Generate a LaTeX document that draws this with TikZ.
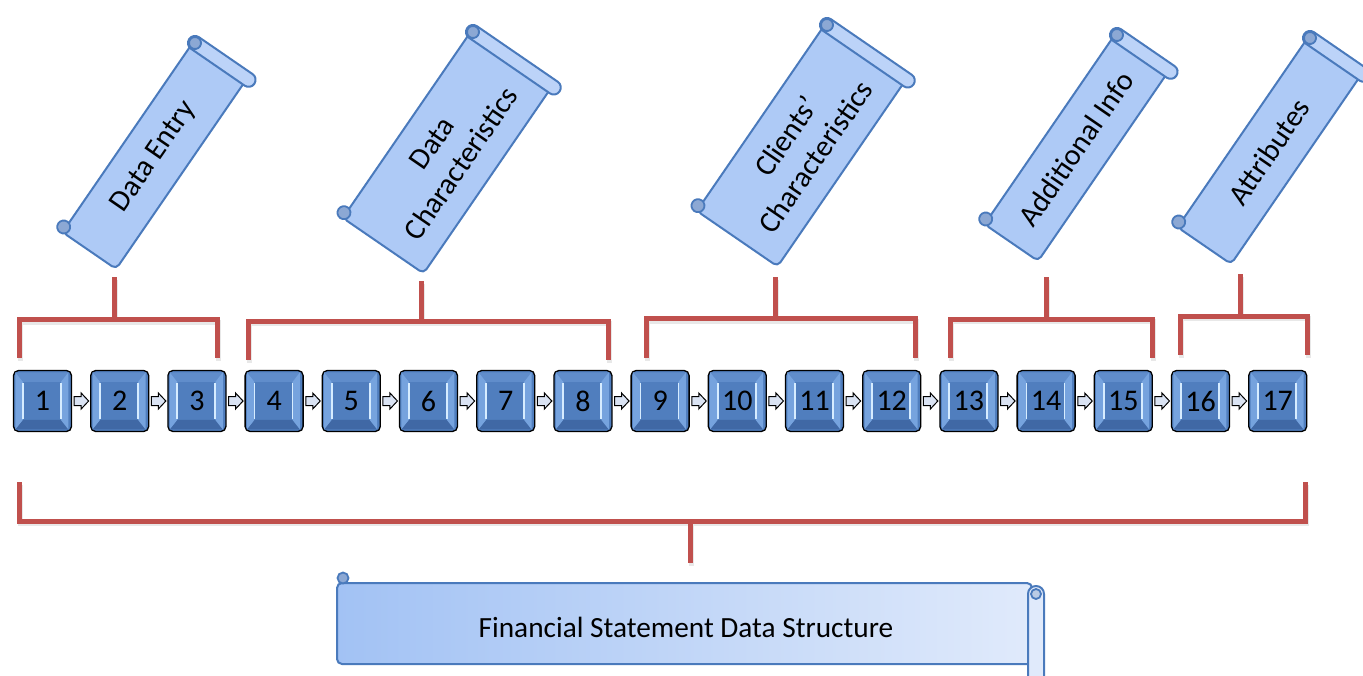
\documentclass[tikz,border=0pt]{standalone}
\usepackage{fontspec}
\setmainfont{Carlito}
\usetikzlibrary{calc}
\definecolor{boxface}{RGB}{80,126,190}
\definecolor{bevL}{RGB}{118,163,222}
\definecolor{bevT}{RGB}{96,141,203}
\definecolor{bevB}{RGB}{64,104,165}
\definecolor{hilite}{RGB}{214,236,255}
\definecolor{arrfill}{RGB}{218,227,243}
\definecolor{brk}{RGB}{192,80,77}
\definecolor{scrline}{RGB}{74,122,188}
\definecolor{scrfill}{RGB}{174,202,246}
\definecolor{scrroll}{RGB}{188,211,248}
\definecolor{scrcurl}{RGB}{140,168,212}
\definecolor{fsleft}{RGB}{162,194,244}
\definecolor{fsright}{RGB}{224,234,251}
% #1,#2 top-left curl centre, #3 body width, #4 body length, #5 name, #6 text
\newcommand\drawscroll[6]{%
  \begin{scope}[shift={(#1,#2)}, rotate=-34.5]
    \path[scrollbody] (-2,0) -- (-2,#4+5) -- (#3,#4+5) -- (#3,0) -- cycle;
    \path[scrollroll] (-7,-7) rectangle (#3+9,7);
    \path[scrollcurl] (0,0) circle (6);
    \path[scrollcurl] (-4,#4) circle (6.5);
    \node[scrolltext] (#5) at (#3/2-1,#4/2+4) {#6};
  \end{scope}}
\tikzset{
  numbox/.style={draw=black, line width=1.3pt, rounded corners=5pt, fill=boxface,
    minimum width=58pt, minimum height=61pt, inner sep=0pt,
    font=\fontsize{30}{30}\selectfont},
  blockarrow/.style={draw=black, fill=arrfill, line width=1pt, line join=miter},
  bracket/.style={draw=brk, line width=5pt},
  brshadow/.style={draw=black!45, line width=5pt, opacity=0.2},
  scrollbody/.style={draw=scrline, fill=scrfill, line width=2pt, rounded corners=5pt, line join=round},
  scrollroll/.style={draw=scrline, fill=scrroll, line width=2pt, rounded corners=6.9pt},
  scrollcurl/.style={draw=scrline, fill=scrcurl, line width=1.8pt},
  scrolltext/.style={rotate=55.5, align=center, font=\fontsize{30}{36}\selectfont, inner sep=0pt},
}
\begin{document}
\begin{tikzpicture}[x=1pt, y=-1pt]
\clip (0,0) rectangle (1363,675);
\fill[white] (0,0) rectangle (1363,675);

% ---- brackets (shadows first) ----
\begin{scope}[shift={(1,2.5)}]
  \draw[brshadow] (19,358) -- (19,319.5) -- (217,319.5) -- (217,358) (114,319.5) -- (114,277);
  \draw[brshadow] (248,360) -- (248,321) -- (608,321) -- (608,360) (421,321) -- (421,281);
  \draw[brshadow] (646,358) -- (646,318.5) -- (915,318.5) -- (915,358) (775,318.5) -- (775,277);
  \draw[brshadow] (950,358) -- (950,319) -- (1152,319) -- (1152,358) (1046,319) -- (1046,277);
  \draw[brshadow] (1180,355) -- (1180,316) -- (1307,316) -- (1307,355) (1240,316) -- (1240,274);
  \draw[brshadow] (19,482) -- (19,521) -- (1305,521) -- (1305,482) (690,521) -- (690,563);
\end{scope}
\draw[bracket] (19,358) -- (19,319.5) -- (217,319.5) -- (217,358) (114,319.5) -- (114,277);
\draw[bracket] (248,360) -- (248,321) -- (608,321) -- (608,360) (421,321) -- (421,281);
\draw[bracket] (646,358) -- (646,318.5) -- (915,318.5) -- (915,358) (775,318.5) -- (775,277);
\draw[bracket] (950,358) -- (950,319) -- (1152,319) -- (1152,358) (1046,319) -- (1046,277);
\draw[bracket] (1180,355) -- (1180,316) -- (1307,316) -- (1307,355) (1240,316) -- (1240,274);
\draw[bracket] (19,482) -- (19,521) -- (1305,521) -- (1305,482) (690,521) -- (690,563);

% ---- numbered boxes ----
\foreach \i in {1,...,17} {
  \pgfmathsetmacro\bx{42.5+77.2*(\i-1)}
  \node[numbox] (b\i) at (\bx,401) {\i};
  \begin{scope}[shift={(b\i.north west)}]
    \fill[bevT] (2.5,2.5) -- (55.5,2.5) -- (48,12) -- (10,12) -- cycle;
    \fill[bevB] (2.5,59.5) -- (55.5,59.5) -- (48,50) -- (10,50) -- cycle;
    \fill[bevL] (2.5,2.5) -- (10,12) -- (10,50) -- (2.5,59.5) -- cycle;
    \fill[bevL] (55.5,2.5) -- (48,12) -- (48,50) -- (55.5,59.5) -- cycle;
    \draw[hilite, line width=1.8pt] (10,13) -- (10,49);
    \draw[hilite, line width=1.8pt] (48,13) -- (48,49);
  \end{scope}
}
\foreach \i in {1,...,16} {
  \draw[blockarrow] ($(b\i.east)+(2,-4.5)$) -- ++(7,0) -- ++(0,-3.5) -- ++(7.5,8)
     -- ++(-7.5,8) -- ++(0,-3.5) -- ++(-7,0) -- cycle;
}

% ---- scrolls ----
\drawscroll{195}{43}{63}{226}{s1}{Data Entry}
\drawscroll{473}{32}{96}{222}{s2}{Data\\Characteristics}
\drawscroll{827}{25}{96}{222}{s3}{Clients’\\Characteristics}
\drawscroll{1117}{35}{63}{226}{s4}{Additional Info}
\drawscroll{1310}{38}{63}{226}{s5}{Attributes}

% ---- bottom scroll ----
\path[draw=scrline, line width=2pt, left color=fsleft, right color=fsright, rounded corners=5pt]
  (337,583) rectangle (1032,664);
\path[scrollroll, fill=fsright, rounded corners=7.9pt] (1028,586) rectangle (1044,720);
\path[scrollcurl, fill=scrcurl!60] (1036,594) circle (5);
\path[scrollcurl] (343,578) circle (5.5);
\node[font=\fontsize{29.3}{30}\selectfont, inner sep=0pt] (fs) at (686,627) {Financial Statement Data Structure};
\end{tikzpicture}
\end{document}
